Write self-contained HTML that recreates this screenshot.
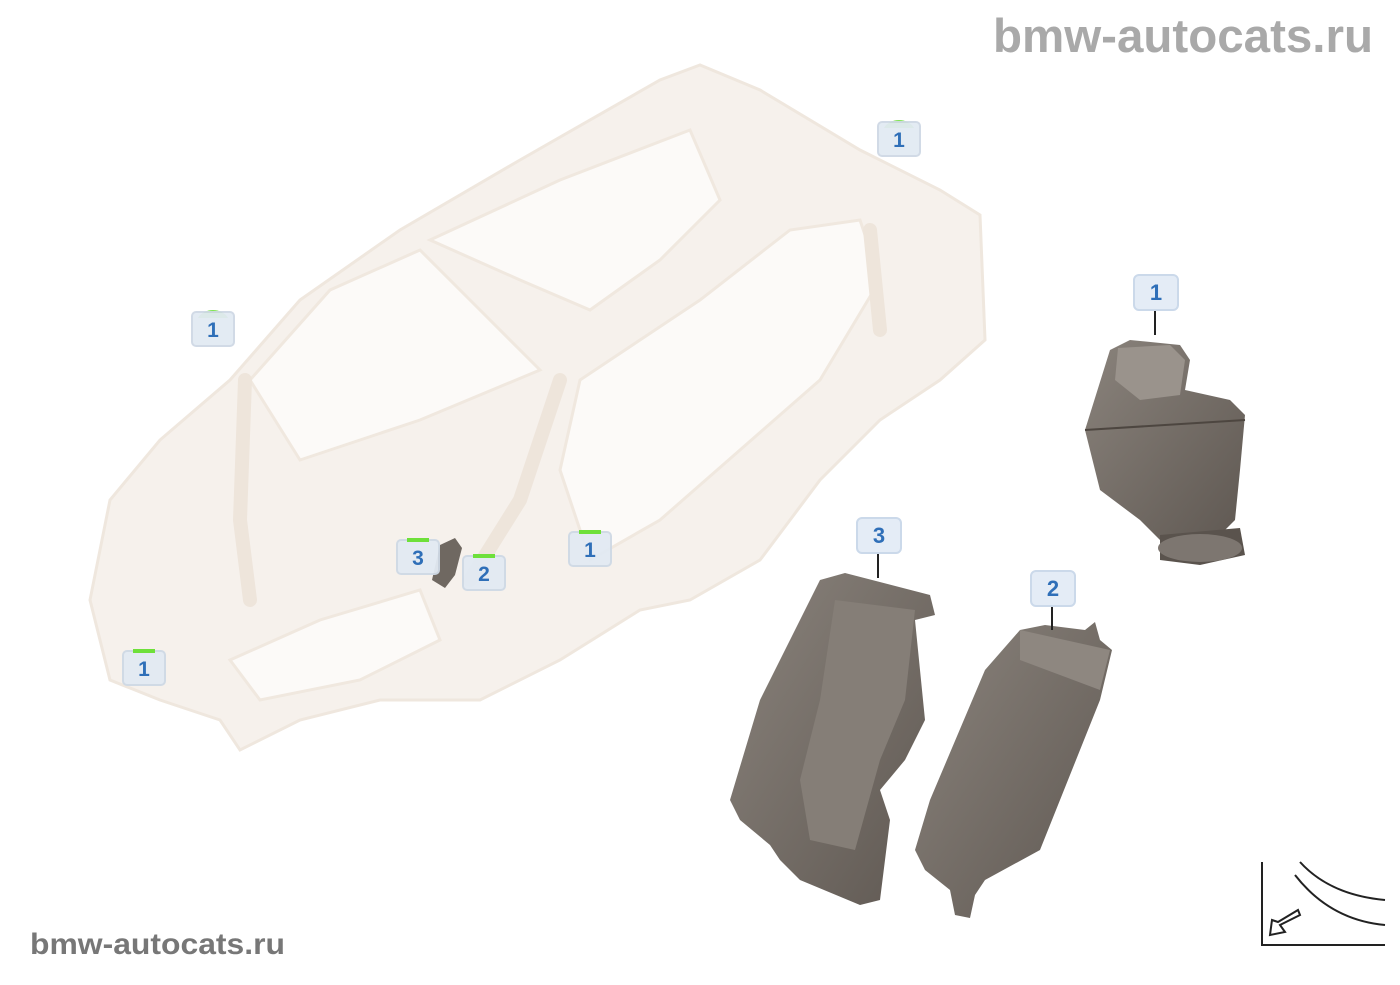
<!DOCTYPE html>
<html><head><meta charset="utf-8"><style>
body{margin:0;background:#fff;width:1400px;height:980px;overflow:hidden;font-family:"Liberation Sans",sans-serif}
</style></head><body>
<svg width="1400" height="980" viewBox="0 0 1400 980" xmlns="http://www.w3.org/2000/svg" font-family="Liberation Sans, sans-serif">
<defs>
<linearGradient id="g" x1="0" y1="0" x2="1" y2="1"><stop offset="0" stop-color="#8a837c"/><stop offset="1" stop-color="#5f5852"/></linearGradient>
</defs>
<text x="1373" y="52" text-anchor="end" font-size="47" font-weight="bold" fill="#a9a9a9" textLength="380" lengthAdjust="spacingAndGlyphs">bmw-autocats.ru</text>
<text x="30" y="954" font-size="30" font-weight="bold" fill="#777" textLength="255" lengthAdjust="spacingAndGlyphs">bmw-autocats.ru</text>

<!-- car body -->
<g fill="#f6f1ec" stroke="#efe7de" stroke-width="3">
<path d="M90 600 L110 500 L160 440 L230 380 L300 300 L400 230 L520 160 L660 80 L700 65 L760 90 L860 150 L940 190 L980 215 L985 340 L940 380 L880 420 L820 480 L760 560 L690 600 L640 610 L560 660 L480 700 L380 700 L300 720 L240 750 L220 720 L160 700 L110 680 Z"/>
</g>
<g fill="#fcfaf8" stroke="#f0e8df" stroke-width="3">
<path d="M250 380 L330 290 L420 250 L470 300 L540 370 L420 420 L300 460 Z"/>
<path d="M430 240 L560 180 L690 130 L720 200 L660 260 L590 310 L520 280 Z"/>
<path d="M580 380 L700 300 L790 230 L860 220 L880 280 L820 380 L740 450 L660 520 L590 560 L560 470 Z"/>
<path d="M230 660 L320 620 L420 590 L440 640 L360 680 L260 700 Z"/>
</g>
<g fill="none" stroke="#eee5db" stroke-width="14" stroke-linecap="round">
<path d="M560 380 L520 500 L470 580"/>
<path d="M245 380 L240 520 L250 600"/>
<path d="M870 230 L880 330"/>
</g>

<!-- part 1: camera -->
<g>
<path d="M1110 350 L1130 340 L1180 345 L1190 360 L1185 390 L1230 400 L1245 415 L1240 470 L1235 520 L1225 530 L1160 540 L1140 520 L1100 490 L1085 430 Z" fill="url(#g)"/>
<path d="M1118 348 L1170 345 L1185 360 L1180 395 L1140 400 L1115 380 Z" fill="#9a938c"/>
<path d="M1160 535 L1240 528 L1245 555 L1200 565 L1160 560 Z" fill="#5a534d"/>
<ellipse cx="1200" cy="548" rx="42" ry="14" fill="#7d7670"/>
<line x1="1085" y1="430" x2="1245" y2="420" stroke="#4d4640" stroke-width="2"/>
</g>
<!-- part 3: bracket -->
<path d="M820 580 L845 573 L930 595 L935 615 L915 620 L925 720 L905 760 L880 790 L890 820 L880 900 L860 905 L800 880 L780 860 L770 845 L740 820 L730 800 L760 700 L790 640 L800 620 Z" fill="url(#g)"/>
<path d="M835 600 L915 610 L905 700 L880 760 L855 850 L810 840 L800 780 L820 700 Z" fill="#857e77"/>
<!-- part 2: box -->
<path d="M1020 630 L1045 625 L1085 630 L1095 622 L1100 640 L1112 650 L1100 700 L1040 850 L985 880 L975 895 L970 918 L955 915 L950 890 L925 870 L915 850 L930 800 L985 670 Z" fill="url(#g)"/>
<path d="M1020 630 L1110 650 L1100 690 L1020 660 Z" fill="#8e8780"/>

<!-- leader lines -->
<g stroke="#222" stroke-width="2">
<line x1="1155" y1="310" x2="1155" y2="335"/>
<line x1="878" y1="553" x2="878" y2="578"/>
<line x1="1052" y1="606" x2="1052" y2="630"/>
</g>
<!-- big labels -->
<g font-size="22" font-weight="bold" fill="#2f6fb8" text-anchor="middle">
<rect x="1134" y="275" width="44" height="35" rx="5" fill="#e4ecf6" stroke="#cbd9ea" stroke-width="2"/><text x="1156" y="300">1</text>
<rect x="857" y="518" width="44" height="35" rx="5" fill="#e4ecf6" stroke="#cbd9ea" stroke-width="2"/><text x="879" y="543">3</text>
<rect x="1031" y="571" width="44" height="35" rx="5" fill="#e4ecf6" stroke="#cbd9ea" stroke-width="2"/><text x="1053" y="596">2</text>
</g>
<!-- small part on car -->
<path d="M440 545 L455 538 L462 548 L455 575 L445 588 L432 580 Z" fill="#6f6861"/>
<!-- small labels -->
<g font-size="21" font-weight="bold" fill="#2f6fb8" text-anchor="middle">
<g transform="translate(899,138)"><path d="M-15 -10 A16 12 0 0 1 15 -10 Z" fill="#6ee03a"/><rect x="-21" y="-16" width="42" height="34" rx="4" fill="#e2eaf3" stroke="#cfd9e5" stroke-width="2" opacity="0.95"/><text y="9">1</text></g>
<g transform="translate(213,328)"><path d="M-15 -10 A16 12 0 0 1 15 -10 Z" fill="#6ee03a"/><rect x="-21" y="-16" width="42" height="34" rx="4" fill="#e2eaf3" stroke="#cfd9e5" stroke-width="2" opacity="0.95"/><text y="9">1</text></g>
<g transform="translate(418,556)"><rect x="-21" y="-16" width="42" height="34" rx="4" fill="#e2eaf3" stroke="#cfd9e5" stroke-width="2" opacity="0.95"/><text y="9">3</text></g>
<g transform="translate(484,572)"><rect x="-21" y="-16" width="42" height="34" rx="4" fill="#e2eaf3" stroke="#cfd9e5" stroke-width="2" opacity="0.95"/><text y="9">2</text></g>
<g transform="translate(590,548)"><rect x="-21" y="-16" width="42" height="34" rx="4" fill="#e2eaf3" stroke="#cfd9e5" stroke-width="2" opacity="0.95"/><text y="9">1</text></g>
<g transform="translate(144,667)"><rect x="-21" y="-16" width="42" height="34" rx="4" fill="#e2eaf3" stroke="#cfd9e5" stroke-width="2" opacity="0.95"/><text y="9">1</text></g>
</g>
<g fill="#6ee03a"><rect x="407" y="538" width="22" height="4"/><rect x="473" y="554" width="22" height="4"/><rect x="579" y="530" width="22" height="4"/><rect x="133" y="649" width="22" height="4"/></g>

<!-- corner icon -->
<g stroke="#222" stroke-width="2" fill="none">
<path d="M1262 862 L1262 945 L1385 945"/>
<path d="M1300 862 Q1330 895 1385 900 M1295 875 Q1330 920 1385 925"/>
<path d="M1300 915 L1280 925 L1285 932 L1270 935 L1272 920 L1278 922 L1298 910 Z" fill="#fff"/>
</g>
</svg>
</body></html>
